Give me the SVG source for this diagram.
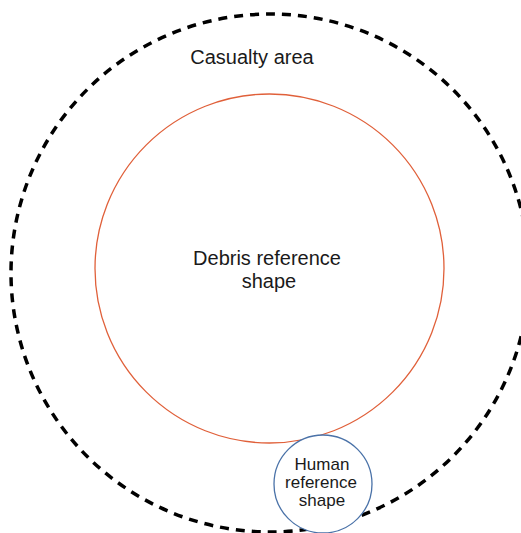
<svg xmlns="http://www.w3.org/2000/svg" width="521" height="533" viewBox="0 0 521 533">
<style>
text{font-family:"Liberation Sans",Arial,sans-serif;fill:#1a1a1a;text-anchor:middle}
.big{font-size:20px}
.small{font-size:17px}
</style>
<rect width="521" height="533" fill="#ffffff"/>
<g id="casualty-area">
<circle cx="270" cy="273" r="259" fill="none" stroke="#000000" stroke-width="3.5" stroke-dasharray="9,7"/>
<text class="big" x="252" y="64">Casualty area</text>
</g>
<g id="debris">
<circle cx="269.5" cy="268.5" r="174.5" fill="none" stroke="#e0603a" stroke-width="1.3"/>
<text class="big" x="267" y="265">Debris reference</text>
<text class="big" x="269" y="288">shape</text>
</g>
<g id="human">
<circle cx="323" cy="484" r="49" fill="#ffffff" stroke="#4a72a8" stroke-width="1.3"/>
<text class="small" x="322" y="470">Human</text>
<text class="small" x="321" y="488">reference</text>
<text class="small" x="322" y="506">shape</text>
</g>
<g id="connectors"/>
</svg>
